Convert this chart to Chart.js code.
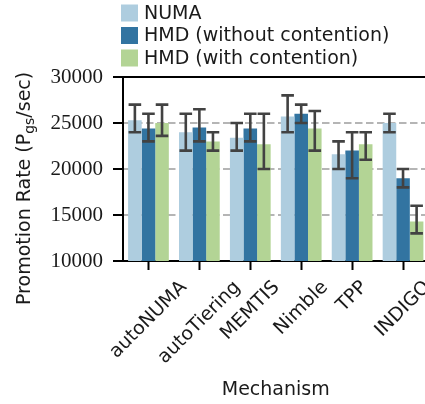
<!DOCTYPE html>
<html>
<head>
<meta charset="utf-8">
<script src="https://cdn.jsdelivr.net/npm/chart.js@4/dist/chart.umd.min.js"></script>
<style>
html,body{margin:0;padding:0;background:#fff;overflow:hidden;width:425px;height:404px;}
#wrap{width:425px;height:404px;overflow:hidden;position:relative;}
canvas{display:block;}
</style>
</head>
<body>
<div id="wrap"><canvas id="c" width="432" height="404"></canvas></div>
<script>
const categories = ['autoNUMA', 'autoTiering', 'MEMTIS', 'Nimble', 'TPP', 'INDIGO'];
const seriesNames = ['NUMA', 'HMD (without contention)', 'HMD (with contention)'];
const numa      = [25300, 24000, 23400, 25700, 21600, 25000];
const numaLow   = [24000, 22000, 22000, 24000, 20000, 24000];
const numaHigh  = [27000, 26000, 25000, 28000, 23000, 26000];
const hmdNo     = [24400, 24500, 24400, 26000, 22000, 19000];
const hmdNoLow  = [23000, 23000, 23000, 25000, 19000, 18000];
const hmdNoHigh = [26000, 26500, 26000, 27000, 24000, 20000];
const hmdWith     = [25000, 23000, 22700, 24400, 22700, 14300];
const hmdWithLow  = [23600, 22000, 20000, 22000, 21000, 13000];
const hmdWithHigh = [27000, 24000, 26000, 26300, 24000, 16000];
const yTicks = [10000, 15000, 20000, 25000, 30000];
const yTitleMain = 'Promotion Rate (P';
const yTitleSub = 'gs';
const yTitleEnd = '/sec)';
const xTitle = 'Mechanism';

const colors = ['#aecddf', '#3274a1', '#b3d495'];
const sansFont = '"DejaVu Sans", sans-serif';
const serifFont = '"Liberation Serif", serif';

const errorBars = [[numaLow, numaHigh], [hmdNoLow, hmdNoHigh], [hmdWithLow, hmdWithHigh]];

const errorPlugin = {
  id: 'errorBars',
  afterDatasetsDraw(chart) {
    const ctx = chart.ctx;
    const ys = chart.scales.y;
    ctx.save();
    ctx.strokeStyle = '#424242';
    ctx.lineWidth = 2.6;
    ctx.lineCap = 'butt';
    chart.data.datasets.forEach((ds, i) => {
      const meta = chart.getDatasetMeta(i);
      const [lo, hi] = errorBars[i];
      meta.data.forEach((el, j) => {
        const x = el.x;
        const y1 = ys.getPixelForValue(lo[j]);
        const y2 = ys.getPixelForValue(hi[j]);
        ctx.beginPath();
        ctx.moveTo(x, y1); ctx.lineTo(x, y2);
        ctx.moveTo(x - 6.3, y1); ctx.lineTo(x + 6.3, y1);
        ctx.moveTo(x - 6.3, y2); ctx.lineTo(x + 6.3, y2);
        ctx.stroke();
      });
    });
    ctx.restore();
  }
};

const decorPlugin = {
  id: 'decor',
  afterDraw(chart) {
    const ctx = chart.ctx;
    const a = chart.chartArea;
    ctx.save();
    // top spine
    ctx.strokeStyle = '#000';
    ctx.lineWidth = 2;
    ctx.setLineDash([]);
    ctx.beginPath();
    ctx.moveTo(a.left - 1, a.top);
    ctx.lineTo(a.right + 1, a.top);
    ctx.moveTo(a.right, a.top);
    ctx.lineTo(a.right, a.bottom);
    ctx.stroke();

    // x tick labels, rotated 45deg, centered on tick
    const xs = chart.scales.x;
    ctx.fillStyle = '#1a1a1a';
    ctx.font = '19px ' + sansFont;
    ctx.textAlign = 'center';
    ctx.textBaseline = 'middle';
    const h = 19 * 0.8;
    chart.data.labels.forEach((lab, i) => {
      const x = xs.getPixelForTick(i);
      const w = ctx.measureText(lab).width;
      const cy = 279 + (w + h) * Math.SQRT1_2 / 2;
      ctx.save();
      ctx.translate(x, cy);
      ctx.rotate(-Math.PI / 4);
      ctx.fillText(lab, 0, 0);
      ctx.restore();
    });

    // y axis title with subscript
    ctx.save();
    ctx.translate(30, 305);
    ctx.rotate(-Math.PI / 2);
    ctx.textAlign = 'left';
    ctx.textBaseline = 'alphabetic';
    ctx.font = '19px ' + sansFont;
    let px = 0;
    ctx.fillText(yTitleMain, px, 0);
    px += ctx.measureText(yTitleMain).width;
    ctx.font = '14px ' + sansFont;
    ctx.fillText(yTitleSub, px, 4);
    px += ctx.measureText(yTitleSub).width;
    ctx.font = '19px ' + sansFont;
    ctx.fillText(yTitleEnd, px, 0);
    ctx.restore();

    // legend
    ctx.font = '19px ' + sansFont;
    ctx.textAlign = 'left';
    ctx.textBaseline = 'middle';
    chart.data.datasets.forEach((ds, i) => {
      const cy = 13 + i * 22.5;
      ctx.fillStyle = ds.backgroundColor;
      ctx.fillRect(121, cy - 8.5, 17, 17);
      ctx.fillStyle = '#1a1a1a';
      ctx.fillText(ds.label, 144, cy + 1);
    });
    ctx.restore();
  }
};

new Chart(document.getElementById('c'), {
  type: 'bar',
  data: {
    labels: categories,
    datasets: [
      { label: seriesNames[0], data: numa, backgroundColor: colors[0] },
      { label: seriesNames[1], data: hmdNo, backgroundColor: colors[1] },
      { label: seriesNames[2], data: hmdWith, backgroundColor: colors[2] }
    ]
  },
  options: {
    responsive: false,
    animation: false,
    devicePixelRatio: 1,
    layout: { padding: { left: 0, top: 77, right: 3.5, bottom: 0 } },
    datasets: { bar: { categoryPercentage: 0.8, barPercentage: 1.0, borderWidth: 0 } },
    plugins: { legend: { display: false }, tooltip: { enabled: false } },
    scales: {
      x: {
        z: 1,
        offset: true,
        grid: { offset: false, drawOnChartArea: false, drawTicks: true, tickLength: 9, tickColor: '#000', tickWidth: 2 },
        border: { display: true, color: '#000', width: 2 },
        ticks: { display: false },
        title: { display: true, text: xTitle, color: '#1a1a1a', font: { family: sansFont, size: 19 }, padding: { top: 0, bottom: 3 } },
        afterFit(s) { s.height = 143; }
      },
      y: {
        z: 1,
        min: 10000,
        max: 30000,
        afterBuildTicks(s) { s.ticks = yTicks.map(v => ({ value: v })); },
        grid: {
          color: (c) => (c.tick && (c.tick.value === 15000 || c.tick.value === 20000 || c.tick.value === 25000)) ? '#b5b5b5' : 'rgba(0,0,0,0)',
          lineWidth: 2,
          tickBorderDash: [],
          tickColor: '#000',
          tickWidth: 2,
          tickLength: 10,
          drawTicks: true
        },
        border: { display: true, color: '#000', width: 2, dash: [7.5, 3.5] },
        ticks: {
          color: '#1a1a1a',
          font: { family: serifFont, size: 21 },
          padding: 10,
          callback: (v) => String(v)
        },
        afterFit(s) { s.width = 123; }
      }
    }
  },
  plugins: [errorPlugin, decorPlugin]
});
</script>
</body>
</html>
